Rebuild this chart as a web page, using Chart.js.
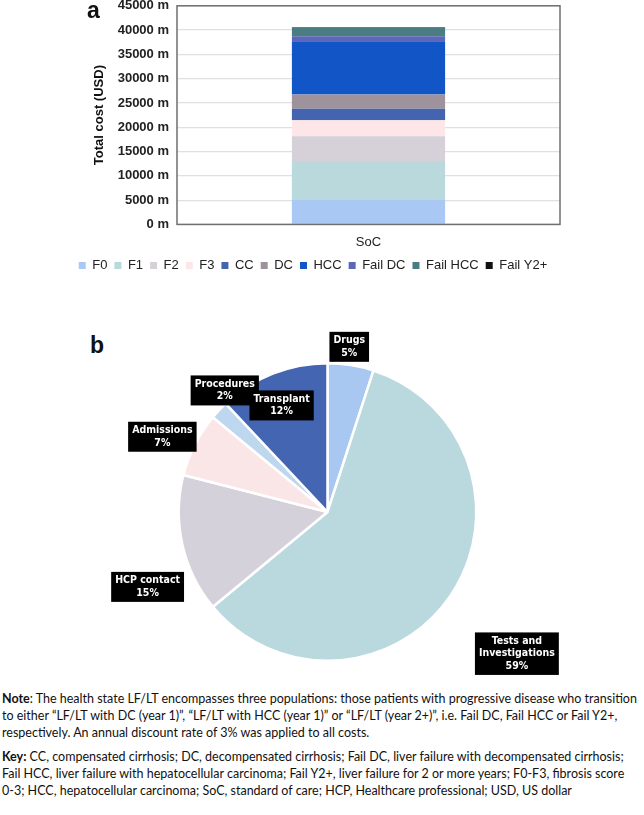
<!DOCTYPE html>
<html>
<head>
<meta charset="utf-8">
<script src="https://cdn.jsdelivr.net/npm/chart.js@4.4.1/dist/chart.umd.min.js"></script>
<style>
  html, body { margin: 0; padding: 0; background: #fff; }
  .page { position: relative; width: 644px; height: 815px; overflow: hidden; font-family: "Liberation Sans", Arial, sans-serif; }
  .panel-letter { position: absolute; font: bold 23px "Liberation Sans", Arial, sans-serif; color: #111; }
  .chart-a { position: absolute; left: 66px; top: -10px; width: 524px; height: 292px; }
  .chart-b { position: absolute; left: 100px; top: 320px; width: 480px; height: 370px; }
  .notes { position: absolute; left: 2px; top: 690px; width: 642px; font: 12.5px Lato, "Liberation Sans", sans-serif; color: #111; line-height: 17px; white-space: nowrap; }
  .notes p { margin: 0 0 7px 0; }
</style>
</head>
<body>
<div class="page">
  <div class="chart-a"><canvas id="costChart"></canvas></div>
  <div class="panel-letter" style="left:87px; top:-3px;">a</div>
  <div class="panel-letter" style="left:90px; top:332px;">b</div>
  <div class="chart-b"><canvas id="pieChart"></canvas></div>
  <div class="notes">
    <p><b>Note</b>: The health state LF/LT encompasses three populations: those patients with progressive disease who transition<br>
    to either “LF/LT with DC (year 1)”, “LF/LT with HCC (year 1)” or “LF/LT (year 2+)”, i.e. Fail DC, Fail HCC or Fail Y2+,<br>
    respectively. An annual discount rate of 3% was applied to all costs.</p>
    <p><b>Key:</b> CC, compensated cirrhosis; DC, decompensated cirrhosis; Fail DC, liver failure with decompensated cirrhosis;<br>
    Fail HCC, liver failure with hepatocellular carcinoma; Fail Y2+, liver failure for 2 or more years; F0-F3, fibrosis score<br>
    0-3; HCC, hepatocellular carcinoma; SoC, standard of care; HCP, Healthcare professional; USD, US dollar</p>
  </div>
</div>
<script>
// panel a: total cost by health state (USD, millions)
const arms = ['SoC'];
const states = ['F0', 'F1', 'F2', 'F3', 'CC', 'DC', 'HCC', 'Fail DC', 'Fail HCC', 'Fail Y2+'];
const stateCosts = [5000, 8050, 5080, 3300, 2400, 2890, 10990, 1040, 1780, 120];
const stateColors = ['#a9c8f3', '#b9d9dd', '#d6d1d8', '#fce6e7', '#4564b0', '#9e929d', '#1155c6', '#5b67b8', '#4a7d81', '#111111'];

// panel b: cost components (%)
const components = ['Drugs', 'Tests and Investigations', 'HCP contact', 'Admissions', 'Procedures', 'Transplant'];
const componentShares = [5, 59, 15, 7, 2, 12];
const componentColors = ['#a8c8f2', '#b9d9de', '#d5d1da', '#fbe6e7', '#bdd7ee', '#4465b1'];
const componentLabelLines = [['Drugs'], ['Tests and', 'Investigations'], ['HCP contact'], ['Admissions'], ['Procedures'], ['Transplant']];

// where each label box sits: radius factor and angle nudge (deg)
const labelPlace = [[1.12, -1.5], [1.59, 2.6], [1.31, -10], [1.22, -2.5], [1.07, 6.6], [0.78, -1.7]];

const plotFrame = {
  id: 'plotFrame',
  afterDraw(chart) {
    const a = chart.chartArea, c = chart.ctx;
    c.save();
    c.strokeStyle = '#6f6f6f';
    c.lineWidth = 1.5;
    c.strokeRect(a.left, a.top, a.right - a.left, a.bottom - a.top);
    c.restore();
  }
};

new Chart(document.getElementById('costChart'), {
  type: 'bar',
  data: {
    labels: arms,
    datasets: states.map((s, i) => ({
      label: s,
      data: [stateCosts[i]],
      backgroundColor: stateColors[i],
      borderWidth: 0,
      barPercentage: 0.4,
      categoryPercentage: 1.0
    }))
  },
  options: {
    responsive: true,
    maintainAspectRatio: false,
    animation: false,
    layout: { padding: { top: 0, right: 30, left: 0, bottom: 0 } },
    plugins: {
      tooltip: { enabled: false },
      legend: {
        position: 'bottom',
        labels: {
          boxWidth: 7, boxHeight: 7, padding: 7,
          color: '#222',
          font: { family: 'Liberation Sans', size: 13 }
        }
      }
    },
    scales: {
      x: {
        stacked: true,
        grid: { display: false },
        border: { display: false },
        ticks: { color: '#222', font: { family: 'Liberation Sans', size: 13 }, padding: 2 }
      },
      y: {
        stacked: true,
        min: 0, max: 45000,
        ticks: {
          stepSize: 5000,
          color: '#222',
          padding: 8,
          font: { family: 'Liberation Sans', size: 13, weight: 'bold' },
          callback: v => v + ' m'
        },
        grid: { color: '#e0e0e0', lineWidth: 1.2, drawTicks: false },
        border: { display: false },
        title: {
          display: true,
          text: 'Total cost (USD)',
          color: '#111',
          font: { family: 'Liberation Sans', size: 13, weight: 'bold' },
          padding: { top: 26, bottom: 0 }
        },
        afterFit(scale) { scale.width = 111; }
      }
    }
  },
  plugins: [plotFrame]
});

const pieLabels = {
  id: 'pieLabels',
  afterDatasetsDraw(chart) {
    const c = chart.ctx;
    const meta = chart.getDatasetMeta(0);
    c.save();
    c.font = 'bold 10.5px "DejaVu Sans Condensed", "DejaVu Sans", sans-serif';
    c.textAlign = 'center';
    c.textBaseline = 'middle';
    meta.data.forEach((arc, i) => {
      const p = arc.getProps(['x', 'y', 'startAngle', 'endAngle', 'outerRadius'], true);
      const mid = (p.startAngle + p.endAngle) / 2 + labelPlace[i][1] * Math.PI / 180;
      const r = p.outerRadius * labelPlace[i][0];
      const cx = p.x + Math.cos(mid) * r;
      const cy = p.y + Math.sin(mid) * r;
      const lines = componentLabelLines[i].concat([componentShares[i] + '%']);
      const w = Math.max(...lines.map(l => c.measureText(l).width)) + 8;
      const lh = 12.5;
      const h = lines.length * lh + 5;
      c.fillStyle = '#000';
      c.fillRect(cx - w / 2, cy - h / 2, w, h);
      c.fillStyle = '#fff';
      lines.forEach((l, k) => {
        c.fillText(l, cx, cy - h / 2 + 2.5 + lh * (k + 0.5));
      });
    });
    c.restore();
  }
};

new Chart(document.getElementById('pieChart'), {
  type: 'pie',
  data: {
    labels: components,
    datasets: [{
      data: componentShares,
      backgroundColor: componentColors,
      borderColor: '#fff',
      borderWidth: 2.5
    }]
  },
  options: {
    responsive: true,
    maintainAspectRatio: false,
    animation: false,
    layout: { padding: { left: 77.5, top: 42, right: 102.5, bottom: 28 } },
    plugins: {
      legend: { display: false },
      tooltip: { enabled: false }
    }
  },
  plugins: [pieLabels]
});
</script>
</body>
</html>
